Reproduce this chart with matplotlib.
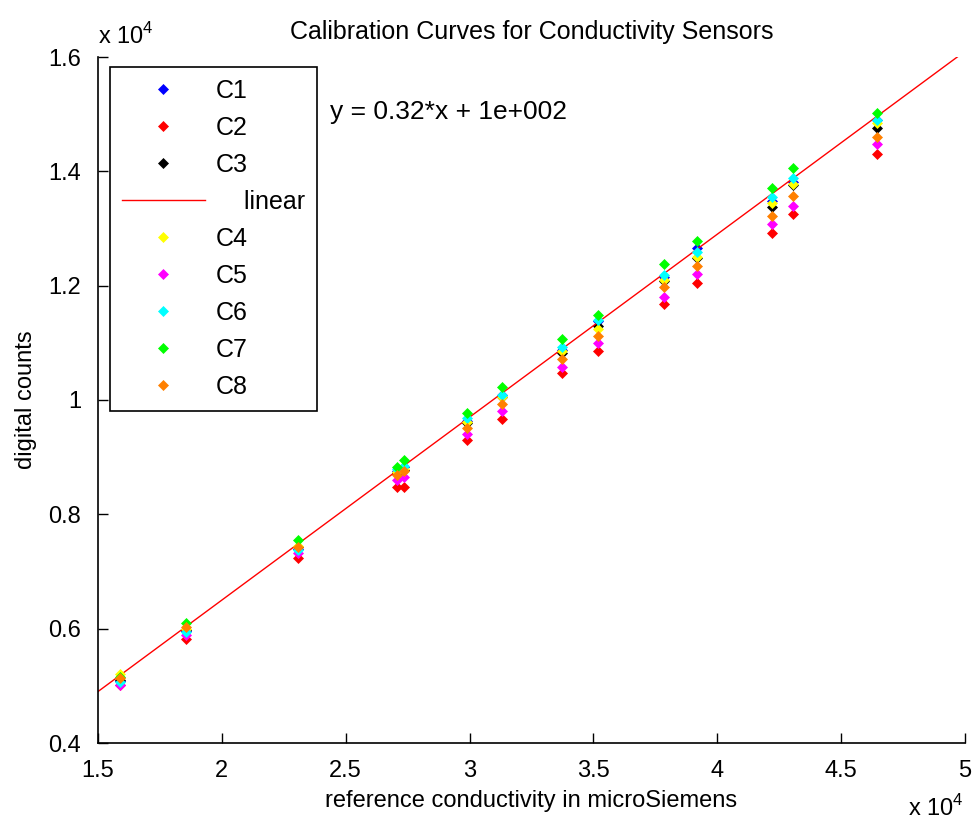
import numpy as np
from matplotlib import pyplot as plt
from matplotlib.ticker import FuncFormatter, MultipleLocator

# reference conductivity (microSiemens)
ref = [15900, 18550, 23070, 27070, 27350, 29900, 31310, 33730, 35190, 37850, 39180, 42210, 43060, 46450]

# digital counts per sensor
c1 = [5080, 5960, 7400, 8750, 8820, 9640, 10090, 10880, 11380, 12150, 12660, 13480, 13810, 14900]
c2 = [5020, 5820, 7240, 8480, 8480, 9300, 9670, 10470, 10860, 11680, 12050, 12920, 13250, 14300]
c3 = [5110, 5980, 7420, 8720, 8780, 9600, 10050, 10820, 11290, 12080, 12480, 13380, 13760, 14760]
c4 = [5210, 6000, 7450, 8740, 8800, 9620, 10050, 10850, 11250, 12100, 12500, 13450, 13780, 14840]
c5 = [5010, 5890, 7320, 8600, 8650, 9400, 9810, 10580, 11000, 11800, 12200, 13080, 13390, 14480]
c6 = [5070, 5940, 7380, 8790, 8850, 9680, 10090, 10930, 11400, 12190, 12590, 13550, 13880, 14900]
c7 = [5150, 6100, 7550, 8830, 8950, 9770, 10230, 11070, 11490, 12380, 12780, 13710, 14060, 15020]
c8 = [5140, 6030, 7430, 8690, 8750, 9510, 9930, 10720, 11120, 11980, 12340, 13220, 13570, 14600]

slope = 0.32
intercept = 100
fit_x = [15000, 50000]

FONT = ['Liberation Sans', 'DejaVu Sans']
plt.rcParams['font.family'] = FONT
plt.rcParams['mathtext.fontset'] = 'custom'
plt.rcParams['mathtext.rm'] = 'Liberation Sans'

fig = plt.figure(figsize=(9.75, 8.23), dpi=100)
ax = fig.add_axes([98 / 975, 1 - 743 / 823, (965 - 98) / 975, (743 - 57) / 823])

mk = dict(marker='D', markersize=5.4, linestyle='none', markeredgewidth=0.5)
ax.plot(ref, c1, color='#0000ff', label='C1', **mk)
ax.plot(ref, c2, color='#ff0000', label='C2', **mk)
ax.plot(ref, c3, color='#000000', label='C3', **mk)
fx = np.array(fit_x)
ax.plot(fx, slope * fx + intercept, color='red', linewidth=1, label='    linear')
ax.plot(ref, c4, color='#ffff00', label='C4', **mk)
ax.plot(ref, c5, color='#ff00ff', label='C5', **mk)
ax.plot(ref, c6, color='#00ffff', label='C6', **mk)
ax.plot(ref, c7, color='#00ff00', label='C7', **mk)
ax.plot(ref, c8, color='#ff8000', label='C8', **mk)

ax.set_xlim(15000, 50000)
ax.set_ylim(4000, 16000)
ax.xaxis.set_major_locator(MultipleLocator(5000))
ax.yaxis.set_major_locator(MultipleLocator(2000))
fmt = FuncFormatter(lambda v, p: '%g' % round(v / 1e4, 2))
ax.xaxis.set_major_formatter(fmt)
ax.yaxis.set_major_formatter(fmt)
ax.tick_params(direction='in', length=7, width=1, labelsize=17)
ax.tick_params(axis='x', pad=12)
ax.tick_params(axis='y', pad=12)

ax.spines['top'].set_visible(False)
ax.spines['right'].set_visible(False)
ax.spines['left'].set_linewidth(1.2)
ax.spines['bottom'].set_linewidth(1.2)

ax.set_title('Calibration Curves for Conductivity Sensors', fontsize=18, pad=13)
ax.set_xlabel('reference conductivity in microSiemens', fontsize=17, labelpad=6)
ax.set_ylabel('digital counts', fontsize=17, labelpad=8)

ax.text(24370, 15040, 'y = 0.32*x + 1e+002', fontsize=19, va='center', ha='left')
fig.text(98 / 975, 1 - 44 / 823, r'x 10$^{4}$', fontsize=17, ha='left', va='baseline')
fig.text(908 / 975, 1 - 816 / 823, r'x 10$^{4}$', fontsize=17, ha='left', va='baseline')

leg = ax.legend(loc='upper left', bbox_to_anchor=(12 / 867, 1 - 10 / 686), borderaxespad=0,
                fontsize=18, labelspacing=0.52, handlelength=3.3, handletextpad=0.45,
                borderpad=0.48, frameon=True, fancybox=False, edgecolor='black', framealpha=1)
leg.get_frame().set_linewidth(1.2)

fig.savefig('out.png', dpi=100)
